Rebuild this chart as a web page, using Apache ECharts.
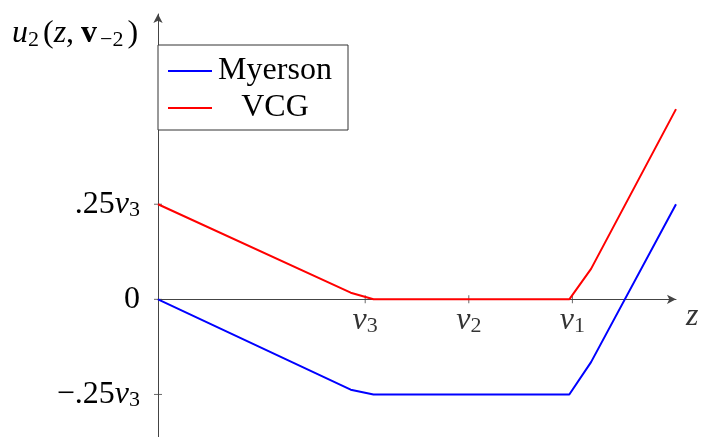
<!DOCTYPE html>
<html>
<head>
<meta charset="utf-8">
<script src="https://cdn.jsdelivr.net/npm/echarts@6/dist/echarts.min.js"></script>
<style>html,body{margin:0;padding:0;background:#fff}#c{width:701px;height:437px}</style>
</head>
<body>
<div id="c"></div>
<script>
// x in units of tick spacing: v3 = 2, v2 = 3, v1 = 4; y in units of .25 v3
const zValues   = [0, 1.86, 2.08, 3.97, 4.18, 5];
const myerson   = [0, -0.95, -1, -1, -0.66, 1];
const vcg       = [1, 0.07, 0, 0, 0.32, 2];
const xTickValues = [2, 3, 4];
const xTickLabels = ['{i|v}{s|3}', '{i|v}{s|2}', '{i|v}{s|1}'];
const yTickValues = [-1, 0, 1];
const yTickLabels = ['{n|\u2212.25}{i|v}{s|3}', '{n|0}', '{n|.25}{i|v}{s|3}'];
const seriesNames = ['Myerson', 'VCG'];
const xAxisName = 'z';
const yAxisName = '{i|u}{s|2}{p|(}{i|z}{n|,}{bv|v}{sm|\u22122}{p|)}';

const FONT = '"Liberation Serif", "DejaVu Serif", serif';
const FS = 32, SS = 22, LH = 36;
const rich = {
  n: { fontFamily: FONT, fontSize: FS, color: '#000', lineHeight: LH },
  p: { fontFamily: FONT, fontSize: FS, color: '#000', lineHeight: LH, padding: [0, 0, 0, 4] },
  i: { fontFamily: FONT, fontSize: FS, fontStyle: 'italic', color: '#000', lineHeight: LH },
  s: { fontFamily: FONT, fontSize: SS, color: '#000', lineHeight: LH, padding: [12, 0, 0, 0] },
  sm: { fontFamily: FONT, fontSize: SS, color: '#000', lineHeight: LH, padding: [12, 0, 0, 3] },
  bv: { fontFamily: FONT, fontSize: FS, fontWeight: 'bold', color: '#000', lineHeight: LH, padding: [0, 0, 0, 7] }
};

const chart = echarts.init(document.getElementById('c'));
const axisColor = '#444';
chart.setOption({
  animation: false,
  grid: { left: 158, right: 25, top: 14, bottom: -5, containLabel: false, outerBoundsMode: 'none' },
  legend: {
    data: seriesNames,
    orient: 'vertical',
    left: 158, top: 45,
    padding: [9, 15, 5, 10],
    itemGap: 3,
    itemWidth: 44, itemHeight: 2,
    icon: 'rect',
    borderColor: '#333', borderWidth: 1,
    backgroundColor: '#fff',
    formatter: function (name) { return '{c|' + name + '}'; },
    textStyle: {
      fontFamily: FONT, fontSize: FS, color: '#000', lineHeight: 34,
      rich: { c: { fontFamily: FONT, fontSize: FS, color: '#000', lineHeight: 34, width: 116, align: 'center' } }
    }
  },
  xAxis: {
    type: 'value', min: 0, max: 5, interval: 1,
    axisLine: { onZero: true, symbol: ['none', 'arrow'], symbolSize: [7, 9], lineStyle: { color: axisColor, width: 1 } },
    axisTick: { show: false },
    splitLine: { show: false },
    axisLabel: { show: false }
  },
  yAxis: {
    type: 'value', min: -1.5, max: 3, interval: 0.5,
    axisLine: { onZero: true, symbol: ['none', 'arrow'], symbolSize: [7, 9], lineStyle: { color: axisColor, width: 1 } },
    axisTick: { show: false },
    splitLine: { show: false },
    axisLabel: {
      margin: 18,
      formatter: function (v) { const k = yTickValues.indexOf(v); return k >= 0 ? yTickLabels[k] : ''; },
      rich: rich
    }
  },
  graphic: [{
    type: 'text', left: 12, top: 17,
    style: { text: yAxisName, rich: rich }
  }],
  series: [
    {
      name: 'Myerson', type: 'line', data: zValues.map((z, k) => [z, myerson[k]]),
      showSymbol: false, lineStyle: { color: '#0000ff', width: 2 }, itemStyle: { color: '#0000ff' }, z: 3
    },
    {
      name: 'VCG', type: 'line', data: zValues.map((z, k) => [z, vcg[k]]),
      showSymbol: false, lineStyle: { color: '#ff0000', width: 2 }, itemStyle: { color: '#ff0000' }, z: 3
    },
    {
      name: 'xticks', type: 'scatter', silent: true, data: xTickValues.map(v => [v, 0]),
      symbol: 'rect', symbolSize: [1, 8], itemStyle: { color: axisColor }, z: 2,
      label: {
        show: true, position: 'bottom', distance: -1,
        formatter: function (p) { return xTickLabels[p.dataIndex]; },
        rich: rich
      }
    },
    {
      name: 'yticks', type: 'scatter', silent: true, data: yTickValues.map(v => [0, v]),
      symbol: 'rect', symbolSize: [8, 1], itemStyle: { color: axisColor }, z: 2
    },
    {
      name: 'xname', type: 'scatter', silent: true, data: [[5, 0]],
      symbolSize: 0, z: 2,
      label: {
        show: true, position: 'right', distance: 10, offset: [0, 17],
        formatter: xAxisName,
        fontFamily: FONT, fontSize: FS, fontStyle: 'italic', color: '#000'
      }
    }
  ]
});
</script>
</body>
</html>
